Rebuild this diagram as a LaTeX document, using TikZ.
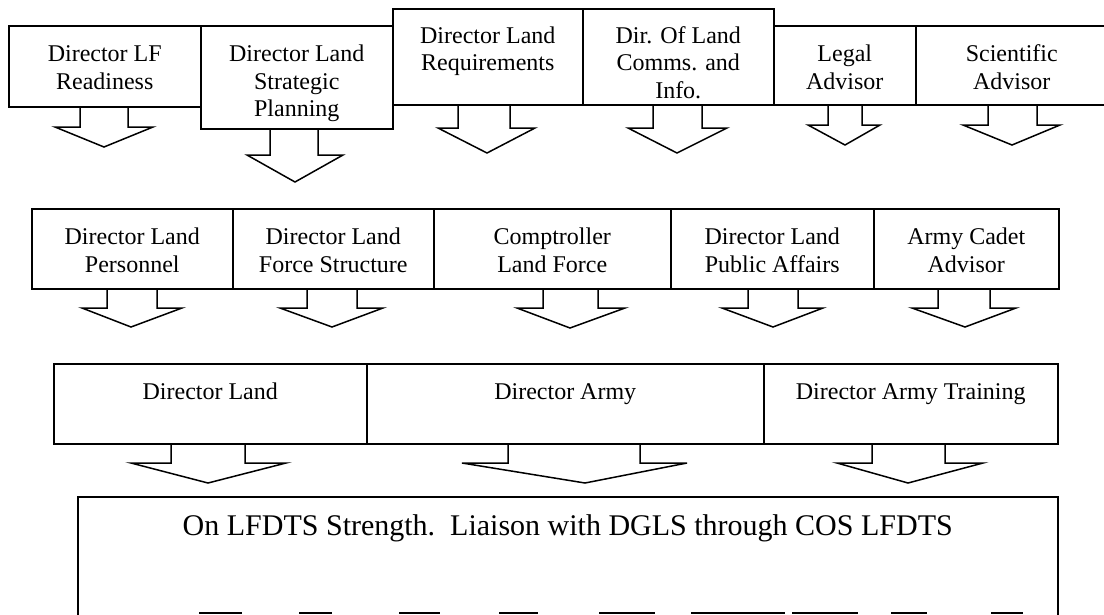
\documentclass[tikz,border=0pt]{standalone}
\usepackage{fontspec}
\setmainfont{Liberation Serif}
\usepackage{tikz}

% block arrow under a box: node, shaft left, shaft right, wing left, wing right, wing y, tip
\newcommand{\blockarrow}[7]{%
  \draw[barrow] (#2,0 |- #1.south) -- (#2,#6) -- (#4,#6) -- (#7) -- (#5,#6) -- (#3,#6) -- (#3,0 |- #1.south);}

\begin{document}
\begin{tikzpicture}[
    x=1pt, y=-1pt,
    every node/.style={font=\fontsize{24}{27.5}\selectfont},
    box/.style={
        draw,
        line width=1.5pt,
        anchor=north west,
        inner sep=0pt,
        align=center,
        text height=36pt
    },
    two/.style={text height=63.5pt},
    three/.style={text height=91pt},
    barrow/.style={draw, line width=1.5pt, line join=miter}
]
\useasboundingbox (0,0) rectangle (1104,614);
\clip (0,0) rectangle (1104,614);

% Nodes
\node[box, two, minimum width=192pt, text depth=17.5pt] (lfr) at (8,25) {Director LF\\Readiness};
\node[box, three, minimum width=192pt, text depth=12pt] (lsp) at (200,25) {Director Land\\Strategic\\Planning};
\node[box, two, text height=62pt, minimum width=190pt, text depth=34pt] (lreq) at (392,8) {Director Land\\Requirements};
\node[box, three, text height=89.5pt, minimum width=191pt, text depth=6.5pt] (lci) at (582,8) {Dir. Of Land\\Comms. and\\Info.};
\node[box, two, minimum width=142pt, text depth=15.5pt] (legal) at (773,25) {Legal\\Advisor};
\node[box, two, minimum width=192pt, text depth=15.5pt] (sci) at (915,25) {Scientific\\Advisor};

\node[box, two, minimum width=201pt, text depth=16.5pt] (lpers) at (31,208) {Director Land\\Personnel};
\node[box, two, minimum width=201pt, text depth=16.5pt] (lfs) at (232,208) {Director Land\\Force Structure};
\node[box, two, minimum width=237pt, text depth=16.5pt] (clf) at (433,208) {Comptroller\\Land Force};
\node[box, two, minimum width=203pt, text depth=16.5pt] (lpa) at (670,208) {Director Land\\Public Affairs};
\node[box, two, minimum width=185pt, text depth=16.5pt] (cadet) at (873,208) {Army Cadet\\Advisor};

\node[box, minimum width=313pt, text depth=44pt] (dland) at (53,363) {Director Land};
\node[box, minimum width=397pt, text depth=44pt] (darmy) at (366,363) {Director Army};
\node[box, minimum width=294pt, text depth=44pt] (dat) at (763,363) {Director Army Training};

\node[box, minimum width=980pt, text height=39pt, text depth=200pt,
      font=\fontsize{30}{36}\selectfont] (lfdts) at (77,496)
    {On LFDTS Strength.\ \ Liaison with DGLS through COS LFDTS};

% Arrows
\blockarrow{lfr}{80}{128}{55}{153}{127}{104,147}
\blockarrow{lsp}{270}{318}{247}{343}{155}{295,182}
\blockarrow{lreq}{458}{510}{438}{535}{128}{487,153}
\blockarrow{lci}{653}{702}{628}{727}{128}{677,153}
\blockarrow{legal}{828}{862}{808}{880}{125}{845,145}
\blockarrow{sci}{988}{1037}{963}{1060}{125}{1012,145}

\blockarrow{lpers}{107}{157}{82}{182}{308}{131,327}
\blockarrow{lfs}{307}{357}{280}{383}{308}{332,327}
\blockarrow{clf}{543}{598}{517}{625}{308}{570,328}
\blockarrow{lpa}{748}{798}{722}{823}{308}{773,327}
\blockarrow{cadet}{938}{990}{912}{1016}{308}{965,327}

\blockarrow{dland}{171}{245}{131}{286}{463}{208,483}
\blockarrow{darmy}{508}{640}{462}{687}{463}{585,483}
\blockarrow{dat}{872}{945}{837}{983}{463}{908,483}

% cut-off row at the bottom edge
\foreach \a/\b in {199/242, 299/332, 399/440, 499/538, 599/655, 691/785, 792/858, 891/927, 991/1023}
    \fill (\a,612) rectangle (\b,614);

\end{tikzpicture}
\end{document}
